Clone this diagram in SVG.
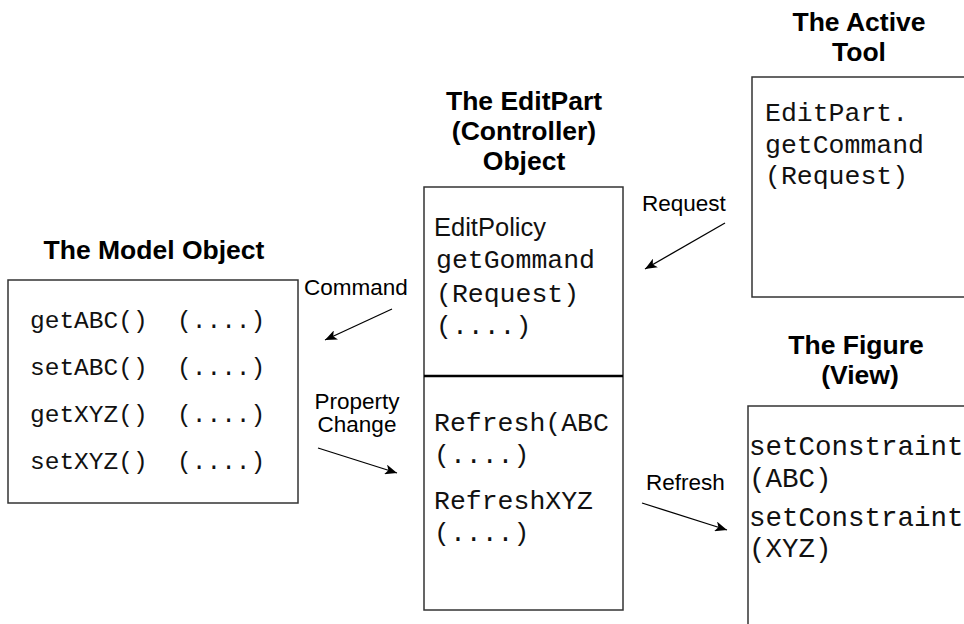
<svg xmlns="http://www.w3.org/2000/svg" width="964" height="624" viewBox="0 0 964 624">
<style>
.box{fill:#fff;stroke:#333;stroke-width:1.5}
.title{font-family:"Liberation Sans",Arial,sans-serif;font-weight:bold;font-size:26.5px;fill:#000}
.mono{font-family:"Liberation Mono","Courier New",monospace;fill:#111}
.lbl{font-family:"Liberation Sans",Arial,sans-serif;font-size:22.5px;fill:#000}
.sans{font-family:"Liberation Sans",Arial,sans-serif;font-size:25.5px;fill:#111}
.conn{stroke:#000;stroke-width:1.3;fill:none}
</style>
<defs>
<marker id="ah" markerUnits="userSpaceOnUse" markerWidth="14" markerHeight="10" refX="12" refY="5" orient="auto">
<path d="M0,0 L12,5 L0,10 L3,5 z" fill="#000"/>
</marker>
</defs>
<rect width="964" height="624" fill="#fff"/>
<g id="model">
<text class="title" x="154" y="259" text-anchor="middle">The Model Object</text>
<rect class="box" x="8" y="280" width="290" height="223"/>
<text class="mono" font-size="24.5" x="30" y="328" xml:space="preserve">getABC()  (....)</text>
<text class="mono" font-size="24.5" x="30" y="375" xml:space="preserve">setABC()  (....)</text>
<text class="mono" font-size="24.5" x="30" y="422" xml:space="preserve">getXYZ()  (....)</text>
<text class="mono" font-size="24.5" x="30" y="469" xml:space="preserve">setXYZ()  (....)</text>
</g>
<g id="editpart">
<text class="title" x="524" y="110" text-anchor="middle">The EditPart</text>
<text class="title" x="524" y="140" text-anchor="middle">(Controller)</text>
<text class="title" x="524" y="170" text-anchor="middle">Object</text>
<rect class="box" x="424" y="187" width="199" height="423"/>
<line x1="424" y1="376" x2="623" y2="376" stroke="#000" stroke-width="2.5"/>
<text class="sans" x="434" y="236">EditPolicy</text>
<text class="mono" font-size="26.5" x="436" y="268">getGommand</text>
<text class="mono" font-size="26.5" x="436" y="302">(Request)</text>
<text class="mono" font-size="26.5" x="436" y="334">(....)</text>
<text class="mono" font-size="26.5" x="434" y="431">Refresh(ABC</text>
<text class="mono" font-size="26.5" x="434" y="463">(....)</text>
<text class="mono" font-size="26.5" x="434" y="509">RefreshXYZ</text>
<text class="mono" font-size="26.5" x="434" y="541">(....)</text>
</g>
<g id="tool">
<text class="title" x="859" y="31" text-anchor="middle">The Active</text>
<text class="title" x="859" y="61" text-anchor="middle">Tool</text>
<rect class="box" x="752" y="77" width="230" height="220"/>
<text class="mono" font-size="26.5" x="765" y="121">EditPart.</text>
<text class="mono" font-size="26.5" x="765" y="153">getCommand</text>
<text class="mono" font-size="26.5" x="765" y="184">(Request)</text>
</g>
<g id="figure">
<text class="title" x="856" y="354" text-anchor="middle">The Figure</text>
<text class="title" x="860" y="384" text-anchor="middle">(View)</text>
<rect class="box" x="748" y="406" width="240" height="240"/>
<text class="mono" font-size="27.5" x="749" y="455">setConstraint</text>
<text class="mono" font-size="27.5" x="749" y="487">(ABC)</text>
<text class="mono" font-size="27.5" x="749" y="526">setConstraint</text>
<text class="mono" font-size="27.5" x="749" y="557">(XYZ)</text>
</g>
<g id="connectors">
<line class="conn" x1="392" y1="309" x2="325" y2="340" marker-end="url(#ah)"/>
<text class="lbl" x="304" y="295">Command</text>
<line class="conn" x1="318" y1="448" x2="397" y2="473" marker-end="url(#ah)"/>
<text class="lbl" x="357" y="409" text-anchor="middle">Property</text>
<text class="lbl" x="357" y="432" text-anchor="middle">Change</text>
<line class="conn" x1="725" y1="223" x2="645" y2="269" marker-end="url(#ah)"/>
<text class="lbl" x="642" y="211">Request</text>
<line class="conn" x1="642" y1="503" x2="727" y2="530" marker-end="url(#ah)"/>
<text class="lbl" x="646" y="490">Refresh</text>
</g>
</svg>
